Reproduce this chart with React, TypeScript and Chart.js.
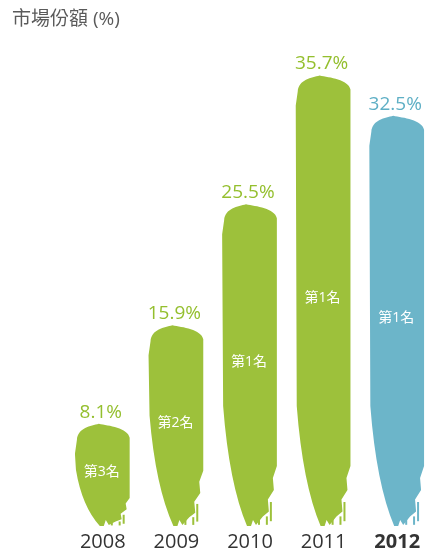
import React, { useEffect, useRef } from "react";
import { Chart, registerables } from "chart.js";

Chart.register(...registerables);

const titleText = "市場份額 (%)";
const years = ["2008", "2009", "2010", "2011", "2012"];
const shares = [8.1, 15.9, 25.5, 35.7, 32.5];
const ranks = ["第3名", "第2名", "第1名", "第1名", "第1名"];
const barColors = ["#9dc13b", "#9dc13b", "#9dc13b", "#9dc13b", "#6cb5c9"];
const labelColors = ["#94bf2e", "#94bf2e", "#94bf2e", "#94bf2e", "#5eafc5"];
const boldYear = "2012";

const FONT = "'Open Sans', 'Noto Sans CJK TC', sans-serif";

const brushPlugin = {
  id: "brush",
  afterDatasetsDraw(chart: any) {
    const ctx = chart.ctx;
    const meta = chart.getDatasetMeta(0);
    meta.data.forEach((el: any, i: number) => {
      const { x, y, base, width } = el.getProps(["x", "y", "base", "width"], true);
      const l = x - width / 2;
      const r = x + width / 2;
      const h = base - y;
      const taper = Math.min(h * 0.55, 120);
      ctx.save();
      ctx.fillStyle = barColors[i];
      ctx.beginPath();
      // top brush cap
      ctx.moveTo(l + 1, y + 16);
      ctx.bezierCurveTo(l + 2, y + 4, x - 12, y + 2, x - 4, y);
      ctx.bezierCurveTo(x + 6, y + 2, r - 2, y + 4, r, y + 14);
      // right side (ragged)
      ctx.lineTo(r, base - taper * 0.5);
      ctx.lineTo(r - 4, base - taper * 0.4);
      ctx.lineTo(r - 3, base - taper * 0.3);
      ctx.lineTo(r - 9, base - taper * 0.22);
      ctx.lineTo(r - 8, base - taper * 0.12);
      ctx.lineTo(r - 14, base - taper * 0.08);
      ctx.lineTo(x + 6, base - 1);
      ctx.lineTo(x + 3, base - 6);
      ctx.lineTo(x + 1, base);
      ctx.lineTo(x - 3, base);
      // left side (curving inward)
      ctx.quadraticCurveTo(l + 6, base - taper * 0.35, l, base - taper);
      ctx.lineTo(l - 1, y + 30);
      ctx.closePath();
      ctx.fill();
      // drips at the right bottom
      ctx.fillRect(r - 7, base - taper * 0.2, 2, taper * 0.16);
      ctx.fillRect(r - 11, base - taper * 0.08, 2, taper * 0.07);
      ctx.fillRect(x + 8, base - taper * 0.06, 2, taper * 0.05);

      // value label
      ctx.fillStyle = labelColors[i];
      ctx.font = `19px ${FONT}`;
      ctx.textAlign = "center";
      ctx.textBaseline = "bottom";
      ctx.fillText(`${shares[i]}%`, x - 2, y - 2);

      // rank label
      ctx.fillStyle = "#ffffff";
      ctx.font = `14px ${FONT}`;
      ctx.textBaseline = "middle";
      ctx.fillText(ranks[i], x - 1, (y + base) / 2 - 3);
      ctx.restore();
    });
  },
  afterDraw(chart: any) {
    const ctx = chart.ctx;
    ctx.save();
    ctx.fillStyle = "#5a5a5a";
    ctx.font = `19px ${FONT}`;
    ctx.textAlign = "left";
    ctx.textBaseline = "middle";
    ctx.fillText(titleText, 12, 20);
    ctx.restore();
  },
};

export default function App() {
  const ref = useRef<HTMLCanvasElement | null>(null);
  useEffect(() => {
    if (!ref.current) return;
    const chart = new Chart(ref.current, {
      type: "bar",
      data: {
        labels: years,
        datasets: [
          {
            data: shares,
            backgroundColor: "rgba(0,0,0,0)",
            borderWidth: 0,
            barPercentage: 0.73,
            categoryPercentage: 1,
          },
        ],
      },
      options: {
        animation: false,
        responsive: true,
        maintainAspectRatio: false,
        layout: { padding: { left: 66, right: 6, top: 59, bottom: -8 } },
        plugins: {
          legend: { display: false },
          tooltip: { enabled: false },
          title: { display: false },
        },
        scales: {
          x: {
            grid: { display: false, drawTicks: false },
            border: { display: false },
            ticks: {
              color: "#333333",
              padding: 4,
              font: (c: any) => ({
                size: 20,
                family: FONT,
                weight: years[c.index] === boldYear ? "bold" : "normal",
              }),
            },
          },
          y: {
            display: false,
            min: 0,
            max: 37,
          },
        },
      },
      plugins: [brushPlugin],
    });
    return () => chart.destroy();
  }, []);
  return (
    <div style={{ position: "fixed", left: 0, top: 0, width: 425, height: 550, overflow: "hidden", background: "#fff" }}>
      <div style={{ position: "absolute", left: 0, top: 0, width: 440, height: 550 }}>
        <canvas ref={ref} />
      </div>
    </div>
  );
}
